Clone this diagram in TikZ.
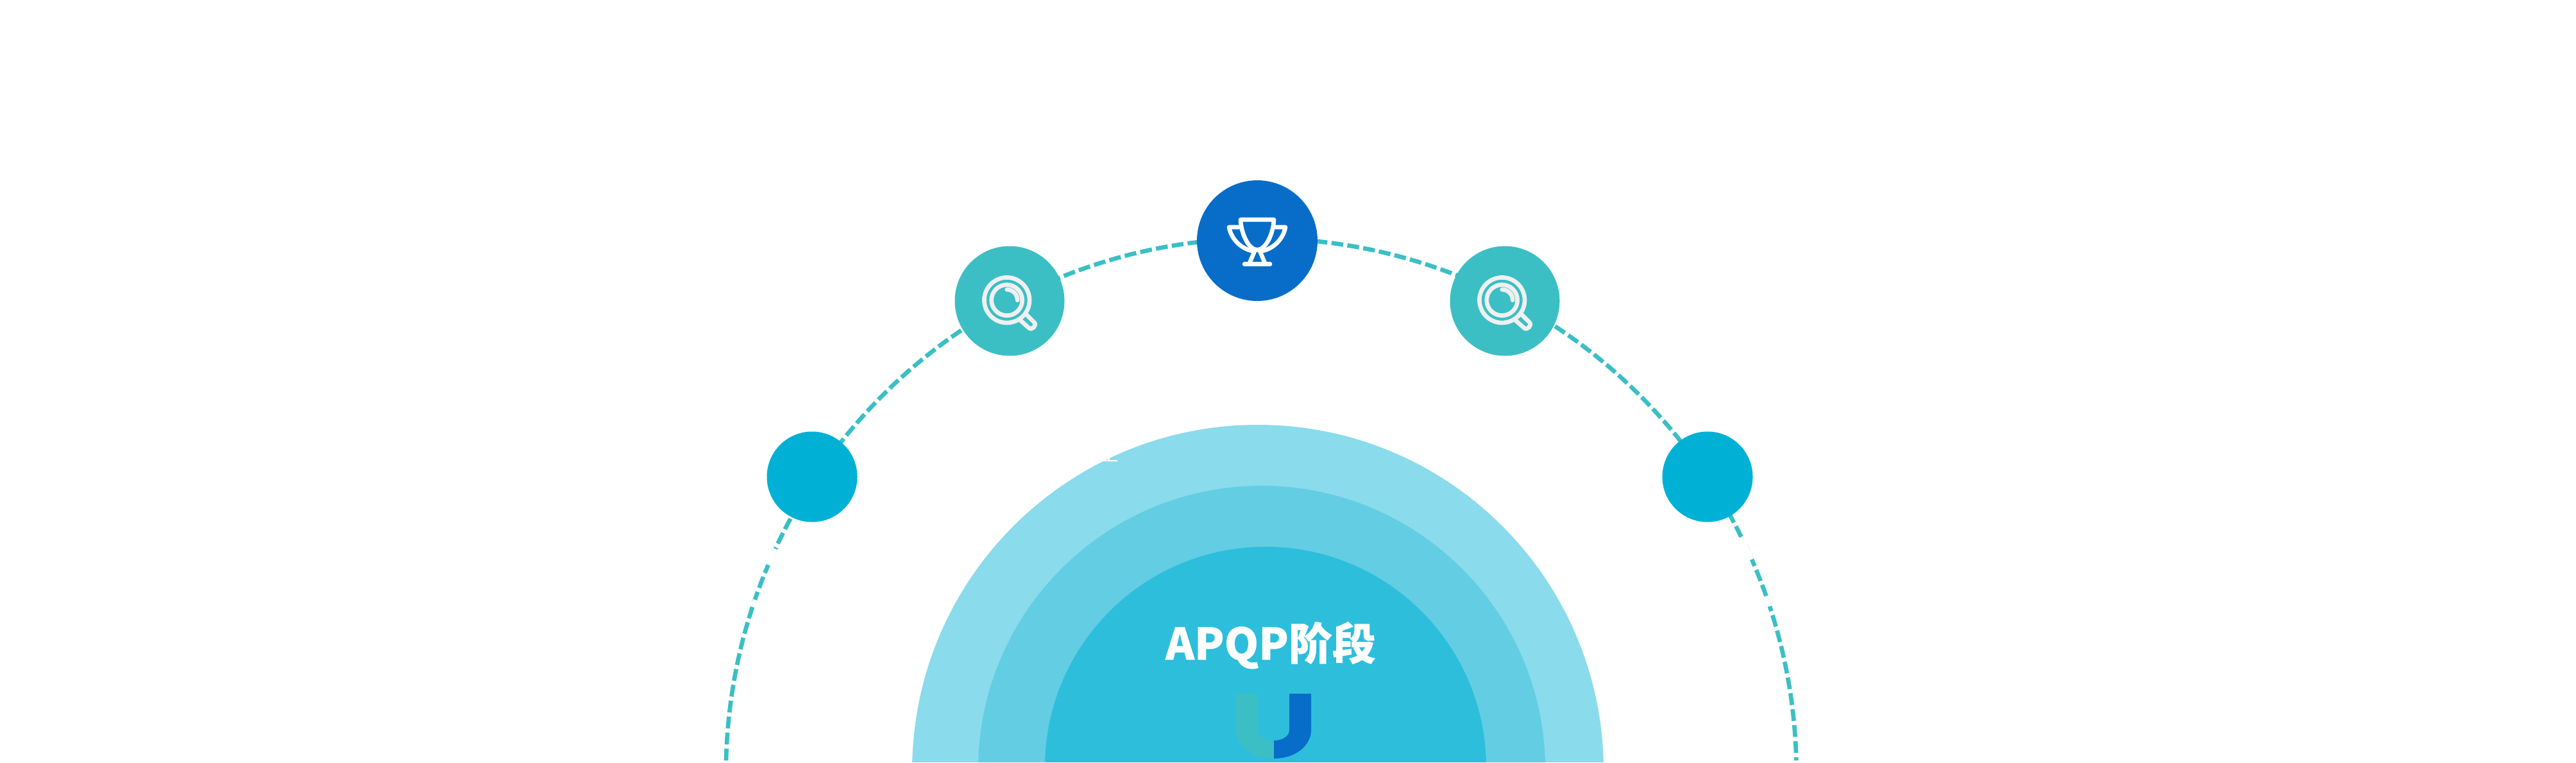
\documentclass[tikz,border=0pt]{standalone}
\usepackage{fontspec}
\newfontfamily\cjkbold[FakeBold=0.6]{Noto Sans CJK SC Black}
\definecolor{ringA}{HTML}{8ADBEC}
\definecolor{ringB}{HTML}{63CDE3}
\definecolor{ringC}{HTML}{2DBEDC}
\definecolor{tealC}{HTML}{3BBFC5}
\definecolor{cyanC}{HTML}{00B1D5}
\definecolor{blueC}{HTML}{076DC8}
\definecolor{iconC}{HTML}{F0F0F0}
\tikzset{
  ringdash/.style={tealC,line width=1.9pt,dash pattern=on 18.5*0.2845pt off 6.5*0.2845pt},
  stepdot/.style={circle,draw=none,inner sep=0pt,anchor=center},
  iconline/.style={line width=1.9pt,line cap=round,line join=round},
  whitebit/.style={white,line width=2.4pt},
  searchicon/.pic={
    \draw[iconC,iconline] (-0.043,0.013) circle[radius=0.353];
    \draw[iconC,iconline] (-0.043,0.013) circle[radius=0.24];
    \draw[iconC,iconline] (-0.043,0.178) arc[start angle=90,end angle=0,radius=0.165];
    \draw[iconC,iconline] (0.25,-0.2) -- (0.385,-0.335) .. controls (0.43,-0.38) and (0.345,-0.465) .. (0.30,-0.42) -- (0.165,-0.3);
  }
}
\begin{document}
\begin{tikzpicture}
    \useasboundingbox (0,0) rectangle (40.16,11.88);
    \begin{scope}
        \clip (0,0.01) rectangle (40.16,11.88);
        \fill[ringA] (19.61,-0.13) circle[radius=5.39];
        \fill[ringB] (19.67,-0.11) circle[radius=4.42];
        \fill[ringC] (19.73,-0.08) circle[radius=3.44];
    \end{scope}
    \draw[white,line width=0.57pt] (17.18,4.70) -- (17.42,4.70);
    \draw[white,line width=0.85pt] (17.28,4.70) -- (17.28,4.76);
    \coordinate (arcL) at (11.32,0.03);
    \draw[ringdash] (arcL) arc[start angle=178.56,end angle=1.44,radius=8.345];
    \draw[whitebit] (12.08,3.33) -- (11.97,3.08);
    \draw[whitebit] (11.78,2.53) -- (11.74,2.43);
    \draw[whitebit] (27.15,3.50) -- (27.30,3.16);
    \draw[whitebit] (27.55,2.53) -- (27.58,2.43);
    \node[stepdot,fill=cyanC,minimum size=1.41cm] (phaseL) at (12.66,4.45) {};
    \node[stepdot,fill=cyanC,minimum size=1.41cm] (phaseR) at (26.62,4.45) {};
    \node[stepdot,fill=tealC,minimum size=1.71cm] (searchL) at (15.74,7.19) {};
    \node[stepdot,fill=tealC,minimum size=1.71cm] (searchR) at (23.46,7.19) {};
    \node[stepdot,fill=blueC,minimum size=1.88cm] (trophy) at (19.60,8.13) {};
    \pic at (searchL) {searchicon};
    \pic at (searchR) {searchicon};
    \begin{scope}[shift={(trophy)},white,iconline]
        \draw (-0.26,0.327) -- (0.26,0.327) .. controls (0.25,0.1) and (0.13,-0.143) .. (0,-0.143) .. controls (-0.13,-0.143) and (-0.25,0.1) .. (-0.26,0.327) -- cycle;
        \draw (-0.26,0.21) -- (-0.44,0.21) .. controls (-0.40,0) and (-0.22,-0.14) .. (-0.07,-0.16);
        \draw (0.26,0.21) -- (0.44,0.21) .. controls (0.40,0) and (0.22,-0.14) .. (0.07,-0.16);
        \draw (-0.043,-0.167) -- (-0.127,-0.367);
        \draw (0.043,-0.167) -- (0.127,-0.367);
        \draw (-0.2,-0.367) -- (0.2,-0.367);
    \end{scope}
    \node[anchor=base,white,inner sep=0pt] (title) at (19.81,1.60) {\fontsize{19.35pt}{19.35pt}\selectfont\cjkbold APQP阶段};
    \fill[tealC] (19.27,1.07) -- (19.61,1.07) -- (19.61,0.50) .. controls (19.61,0.40) and (19.74,0.34) .. (19.86,0.34) -- (19.86,0.06) .. controls (19.50,0.06) and (19.27,0.28) .. (19.27,0.50) -- cycle;
    \fill[blueC] (20.44,1.07) -- (20.10,1.07) -- (20.10,0.50) .. controls (20.10,0.40) and (19.98,0.34) .. (19.86,0.34) -- (19.86,0.06) .. controls (20.22,0.06) and (20.44,0.28) .. (20.44,0.50) -- cycle;
\end{tikzpicture}
\end{document}
